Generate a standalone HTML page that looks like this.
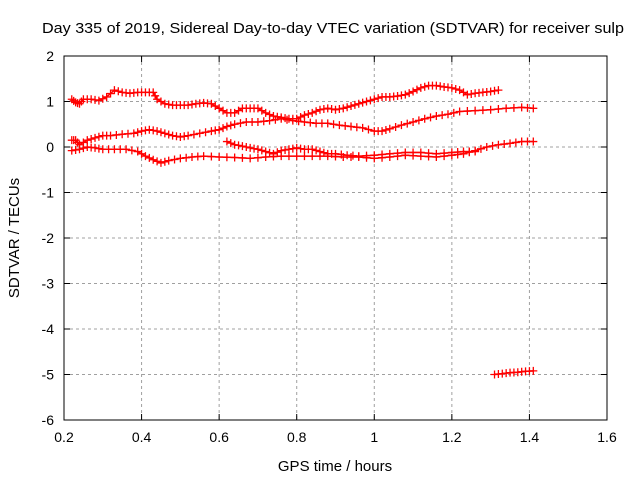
<!DOCTYPE html>
<html><head><meta charset="utf-8"><style>
html,body{margin:0;padding:0;background:#fff;}
svg{display:block;font-family:"Liberation Sans",sans-serif;}
</style></head><body>
<svg id="chart" width="640" height="480">
<text x="333" y="33" font-size="15" text-anchor="middle" textLength="582" lengthAdjust="spacingAndGlyphs">Day 335 of 2019, Sidereal Day-to-day VTEC variation (SDTVAR) for receiver sulp</text>
<text x="335" y="471" font-size="15" text-anchor="middle">GPS time / hours</text>
<text transform="translate(19,238) rotate(-90)" font-size="15" text-anchor="middle">SDTVAR / TECUs</text>
<g id="grid"></g><g id="ticks"></g><g id="series"></g>
<rect x="64" y="56" width="543" height="364" fill="none" stroke="#000" stroke-width="1"/>
</svg>
<script>
const xTicks=[0.2,0.4,0.6,0.8,1,1.2,1.4,1.6];
const xTickLabels=["0.2","0.4","0.6","0.8","1","1.2","1.4","1.6"];
const yTicks=[2,1,0,-1,-2,-3,-4,-5,-6];
const yTickLabels=["2","1","0","-1","-2","-3","-4","-5","-6"];
const aX=[0.22,0.23,0.24,0.25,0.27,0.29,0.31,0.33,0.35,0.37,0.39,0.41,0.43,0.44,0.46,0.48,0.5,0.52,0.54,0.56,0.58,0.6,0.62,0.64,0.66,0.68,0.7,0.72,0.74,0.76,0.78,0.8,0.82,0.84,0.86,0.88,0.9,0.92,0.94,0.96,0.98,1.0,1.02,1.04,1.06,1.08,1.1,1.12,1.14,1.16,1.18,1.2,1.22,1.24,1.26,1.28,1.3,1.32];
const aY=[1.05,0.98,0.95,1.05,1.05,1.02,1.1,1.25,1.2,1.18,1.2,1.2,1.2,1.05,0.95,0.92,0.92,0.92,0.95,0.97,0.95,0.85,0.75,0.75,0.85,0.85,0.85,0.75,0.68,0.65,0.62,0.62,0.7,0.75,0.82,0.85,0.82,0.85,0.9,0.95,1.0,1.05,1.1,1.1,1.12,1.15,1.22,1.3,1.35,1.35,1.32,1.3,1.25,1.15,1.18,1.2,1.22,1.25];
const bX=[0.22,0.23,0.24,0.26,0.28,0.3,0.32,0.35,0.38,0.4,0.42,0.44,0.46,0.48,0.5,0.52,0.55,0.58,0.6,0.62,0.64,0.67,0.7,0.73,0.76,0.79,0.82,0.85,0.88,0.91,0.94,0.97,1.0,1.02,1.04,1.07,1.1,1.13,1.16,1.19,1.22,1.26,1.3,1.34,1.38,1.41];
const bY=[0.15,0.15,0.05,0.15,0.2,0.25,0.25,0.28,0.3,0.35,0.38,0.35,0.3,0.25,0.22,0.25,0.3,0.35,0.38,0.45,0.5,0.55,0.55,0.58,0.62,0.58,0.55,0.52,0.52,0.48,0.45,0.42,0.35,0.35,0.4,0.48,0.55,0.62,0.68,0.72,0.78,0.8,0.82,0.85,0.87,0.85];
const cX=[0.22,0.24,0.26,0.28,0.3,0.33,0.36,0.39,0.41,0.43,0.45,0.47,0.5,0.53,0.56,0.6,0.64,0.68,0.72,0.76,0.8,0.84,0.88,0.92,0.96,1.0,1.04,1.08,1.12,1.16,1.2,1.23,1.26,1.29,1.32,1.35,1.38,1.41];
const cY=[-0.08,-0.05,0.0,-0.02,-0.05,-0.05,-0.05,-0.1,-0.2,-0.28,-0.35,-0.3,-0.25,-0.22,-0.2,-0.22,-0.23,-0.25,-0.22,-0.2,-0.2,-0.2,-0.2,-0.22,-0.22,-0.25,-0.22,-0.18,-0.2,-0.22,-0.18,-0.15,-0.08,0.0,0.05,0.08,0.12,0.12];
const dX=[0.62,0.64,0.66,0.68,0.7,0.72,0.74,0.76,0.78,0.8,0.82,0.84,0.86,0.88,0.9,0.93,0.96,1.0,1.04,1.08,1.12,1.16,1.2,1.23,1.26];
const dY=[0.12,0.05,0.02,-0.02,-0.05,-0.1,-0.15,-0.08,-0.05,-0.02,-0.05,-0.05,-0.1,-0.15,-0.15,-0.18,-0.2,-0.18,-0.15,-0.12,-0.12,-0.15,-0.12,-0.1,-0.1];
const eX=[1.31,1.33,1.35,1.37,1.39,1.41];
const eY=[-5.0,-4.98,-4.96,-4.95,-4.93,-4.92];
const NS="http://www.w3.org/2000/svg";
const L=64,R=607,T=56,B=420;
function sx(v){return L+(v-0.2)/1.4*(R-L);}
function sy(v){return T+(2-v)/8*(B-T);}
function mk(tag,at,parent){const e=document.createElementNS(NS,tag);for(const k in at)e.setAttribute(k,at[k]);parent.appendChild(e);return e;}
const grid=document.getElementById('grid'),ticks=document.getElementById('ticks'),ser=document.getElementById('series');
xTicks.forEach((v,i)=>{const x=sx(v);
 if(i>0&&i<xTicks.length-1){const g=mk('line',{x1:x,x2:x,y1:T,y2:B,stroke:'#a0a0a0','stroke-dasharray':'3,3'},grid);
 
 }
 mk('line',{x1:x,x2:x,y1:B,y2:B-6,stroke:'#000'},ticks);mk('line',{x1:x,x2:x,y1:T,y2:T+6,stroke:'#000'},ticks);
 const t=mk('text',{x:x,y:B+22,'font-size':14,'text-anchor':'middle'},ticks);t.textContent=xTickLabels[i];
 
 });
yTicks.forEach((v,i)=>{const y=sy(v);
 if(i>0&&i<yTicks.length-1){const g=mk('line',{x1:L,x2:R,y1:y,y2:y,stroke:'#a0a0a0','stroke-dasharray':'3,3'},grid);
 
 }
 mk('line',{x1:L,x2:L+6,y1:y,y2:y,stroke:'#000'},ticks);mk('line',{x1:R,x2:R-6,y1:y,y2:y,stroke:'#000'},ticks);
 const t=mk('text',{x:L-10,y:y+5,'font-size':14,'text-anchor':'end'},ticks);t.textContent=yTickLabels[i];
 
 });
function draw(xs,ys,name){
 const g=mk('g',{},ser);
 
 
 let d='';xs.forEach((x,i)=>{d+=(i?'L':'M')+sx(x).toFixed(1)+','+sy(ys[i]).toFixed(1);});
 mk('path',{d:d,fill:'none',stroke:'#f00','stroke-width':1.5},g);
 let c='';xs.forEach((x,i)=>{const px=sx(x),py=sy(ys[i]);c+=`M${px-4},${py}h8M${px},${py-4}v8`;
  if(i<xs.length-1){const mx=(px+sx(xs[i+1]))/2,my=(py+sy(ys[i+1]))/2;c+=`M${mx-4},${my}h8M${mx},${my-4}v8`;}});
 mk('path',{d:c,stroke:'#f00','stroke-width':1.3,fill:'none'},g);
}
draw(aX,aY,'series-a');draw(bX,bY,'series-b');draw(cX,cY,'series-c');draw(dX,dY,'series-d');draw(eX,eY,'series-e');
</script>
</body></html>
